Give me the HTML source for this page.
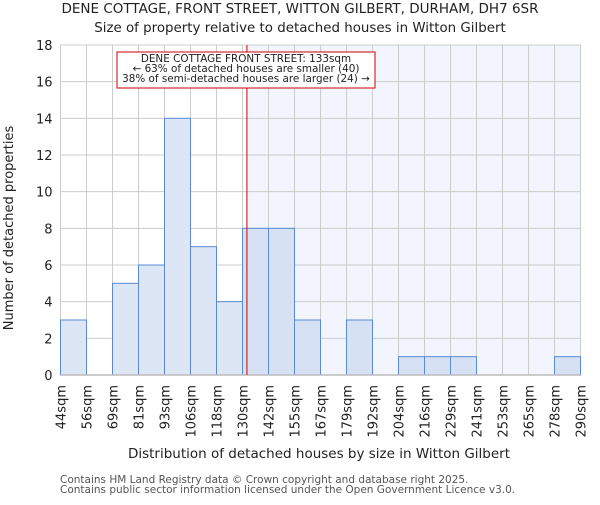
<!DOCTYPE html>
<html><head><meta charset="utf-8"><style>
body{margin:0;background:#fff;}
svg text{font-family:"DejaVu Sans","Liberation Sans",sans-serif;fill:#222;}
</style></head><body>
<svg id="chart" width="600" height="500" xmlns="http://www.w3.org/2000/svg">
<text x="300" y="13" font-size="13.5" text-anchor="middle">DENE COTTAGE, FRONT STREET, WITTON GILBERT, DURHAM, DH7 6SR</text>
<text x="300" y="32" font-size="13.4" text-anchor="middle">Size of property relative to detached houses in Witton Gilbert</text>
<g id="grid"></g>
<g id="bars"></g>
<g id="axes"></g>
<text x="319" y="458" font-size="13.5" text-anchor="middle">Distribution of detached houses by size in Witton Gilbert</text>
<text transform="translate(13,228) rotate(-90)" font-size="13" text-anchor="middle">Number of detached properties</text>
<text x="60" y="483" font-size="10.5" style="fill:#555">Contains HM Land Registry data © Crown copyright and database right 2025.</text>
<text x="60" y="493" font-size="10.5" style="fill:#555">Contains public sector information licensed under the Open Government Licence v3.0.</text>
</svg>
<script>
const categories=["44sqm","56sqm","69sqm","81sqm","93sqm","106sqm","118sqm","130sqm","142sqm","155sqm","167sqm","179sqm","192sqm","204sqm","216sqm","229sqm","241sqm","253sqm","265sqm","278sqm","290sqm"];
const counts=[3,0,5,6,14,7,4,8,8,3,0,3,0,1,1,1,0,0,0,1];
const yTicks=[0,2,4,6,8,10,12,14,16,18];
const markerBin=7.17;
const NS="http://www.w3.org/2000/svg";
const X0=60.5,BW=26,Y0=375,YT=45,YMAX=18;
const xs=i=>X0+i*BW;
const ys=v=>Y0-(v/YMAX)*(Y0-YT);
const grid=document.getElementById('grid'),bars=document.getElementById('bars'),axes=document.getElementById('axes');
function mk(tag,a,p){const e=document.createElementNS(NS,tag);for(const k in a)e.setAttribute(k,a[k]);p.appendChild(e);return e;}
const X1=xs(counts.length);
const mx=xs(markerBin);
const hl=mk('rect',{x:mx,y:YT,width:X1-mx,height:Y0-YT,fill:'#f2f5fd'},grid);


for(let i=0;i<=counts.length;i++){const l=mk('line',{x1:xs(i),x2:xs(i),y1:YT,y2:Y0,stroke:'#ccc'},grid);

}
yTicks.forEach(t=>{const l=mk('line',{x1:X0,x2:X1,y1:ys(t),y2:ys(t),stroke:'#ccc'},grid);


const tx=mk('text',{x:X0-8,y:ys(t)+5,'font-size':13,'text-anchor':'end'},axes);tx.textContent=t;

});
counts.forEach((c,i)=>{if(c<=0)return;const r=mk('rect',{x:xs(i),y:ys(c),width:BW,height:Y0-ys(c),fill:i>=7?'#d6e1f3':'#dde6f4',stroke:'#5a8ad6','stroke-width':1},bars);

});
const ax=mk('line',{x1:X0,x2:X1,y1:Y0,y2:Y0,stroke:'#bbb','stroke-width':1.5},axes);


categories.forEach((c,i)=>{const t=mk('text',{transform:`translate(${xs(i)+5},385) rotate(-90)`,'font-size':13,'text-anchor':'end'},axes);t.textContent=c;

});
const ml=mk('line',{x1:mx,x2:mx,y1:YT,y2:Y0,stroke:'#c00','stroke-width':1},axes);


const g=mk('g',{},axes);


mk('rect',{x:117,y:52,width:258,height:36,fill:'#fff',stroke:'#c00','stroke-width':1},g);
["DENE COTTAGE FRONT STREET: 133sqm","← 63% of detached houses are smaller (40)","38% of semi-detached houses are larger (24) →"].forEach((s,i)=>{const t=mk('text',{x:246,y:62+i*10,'font-size':10.4,'text-anchor':'middle'},g);t.textContent=s;

});
</script>
</body></html>
